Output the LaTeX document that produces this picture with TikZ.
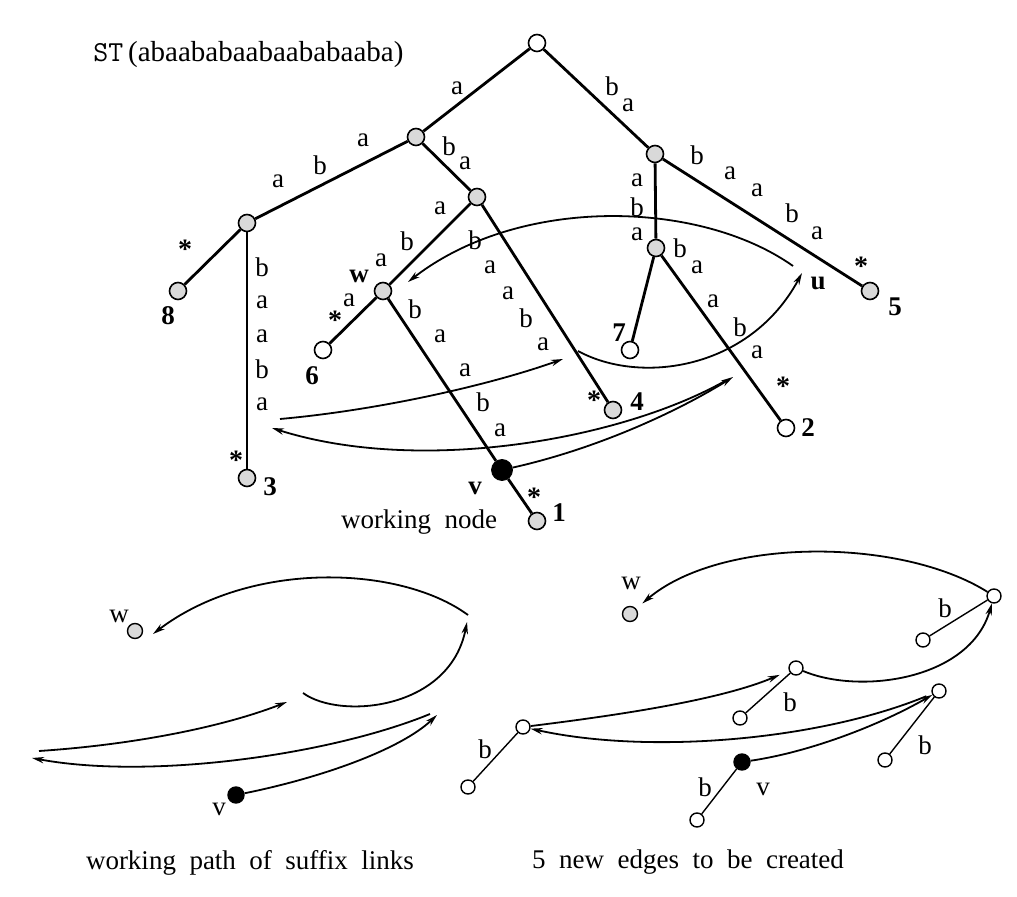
\documentclass[tikz,border=0pt]{standalone}
\usepackage{fontspec}
\setmainfont{Liberation Serif}
\usetikzlibrary{arrows.meta}
\newcommand\mywidespaces{\fontsize{13.5}{16}\selectfont\spaceskip=0.5em plus 0.1em\relax}
\begin{document}
\begin{tikzpicture}[x=0.5pt,y=-0.5pt,
  tn/.style={circle, draw=black, line width=0.8pt, fill=gray!30, minimum size=8.5pt, inner sep=0pt},
  tw/.style={tn, fill=white},
  vn/.style={circle, draw=black, fill=black, minimum size=10.5pt, inner sep=0pt},
  sn/.style={circle, draw=black, line width=0.7pt, fill=white, minimum size=7pt, inner sep=0pt},
  sg/.style={sn, fill=gray!30, minimum size=7.5pt},
  sv/.style={sn, fill=black, minimum size=8pt},
  treeedge/.style={line width=1.4pt},
  thinedge/.style={line width=0.7pt},
  lnk/.style={line width=0.9pt, -{Stealth[length=6pt,width=3.2pt]}},
  lbl/.style={font=\fontsize{13.5}{15}\selectfont, inner sep=0pt},
  numlbl/.style={font=\fontsize{13.5}{15}\selectfont\bfseries, inner sep=0pt},
  starlbl/.style={font=\fontsize{14}{16}\selectfont\bfseries, inner sep=0pt, yshift=-2pt},
  capt/.style={font=\mywidespaces, inner sep=0pt}
]
\useasboundingbox (0,0) rectangle (1017,897);

% ---------------- top tree ----------------
\node[anchor=base west, font=\fontsize{14.5}{17}\selectfont, inner sep=0pt] (title) at (93,62) {{\ttfamily ST}\,(abaababaabaababaaba)};

\node[tw] (root) at (537,43) {};
\node[tn] (A) at (416,137) {};
\node[tn] (B) at (655,154) {};
\node[tn] (C) at (247,223) {};
\node[tn] (D) at (477,197) {};
\node[tn] (L8) at (178,291) {};
\node[tn] (L3) at (247,478) {};
\node[tn] (w) at (383,291) {};
\node[tw] (L6) at (323,350) {};
\node[vn] (v) at (502,470) {};
\node[tn] (L1) at (537,521) {};
\node[tn] (L4) at (613,410) {};
\node[tn] (E) at (656,248) {};
\node[tw] (L7) at (630,350) {};
\node[tw] (L2) at (786,428) {};
\node[tn] (L5) at (870,291) {};

\draw[treeedge] (root) -- (A);
\draw[treeedge] (root) -- (B);
\draw[treeedge] (A) -- (C);
\draw[treeedge] (A) -- (D);
\draw[treeedge] (C) -- (L8);
\draw[treeedge] (C) -- (L3);
\draw[treeedge] (D) -- (w);
\draw[treeedge] (D) -- (L4);
\draw[treeedge] (w) -- (L6);
\draw[treeedge] (w) -- (v);
\draw[treeedge] (v) -- (L1);
\draw[treeedge] (B) -- (E);
\draw[treeedge] (B) -- (L5);
\draw[treeedge] (E) -- (L7);
\draw[treeedge] (E) -- (L2);

% edge labels
\node[lbl] at (457,88) {a};
\node[lbl] at (612,86) {b};
\node[lbl] at (628,105) {a};
\node[lbl] at (278,181) {a};
\node[lbl] at (320,165) {b};
\node[lbl] at (363,140) {a};
\node[lbl] at (449,146) {b};
\node[lbl] at (465,163) {a};
\node[starlbl] at (185,245) {*};
\node[lbl] at (262,267) {b};
\node[lbl] at (262,302) {a};
\node[lbl] at (262,336) {a};
\node[lbl] at (262,369) {b};
\node[lbl] at (262,404) {a};
\node[starlbl] at (236,456) {*};
\node[lbl] at (440,208) {a};
\node[lbl] at (407,241) {b};
\node[lbl] at (381,260) {a};
\node[lbl] at (475,240) {b};
\node[lbl] at (490,267) {a};
\node[lbl] at (508,293) {a};
\node[lbl] at (526,318) {b};
\node[lbl] at (543,344) {a};
\node[starlbl] at (594,396) {*};
\node[lbl] at (349,300) {a};
\node[starlbl] at (335,316) {*};
\node[lbl] at (415,309) {b};
\node[lbl] at (440,336) {a};
\node[lbl] at (465,370) {a};
\node[lbl] at (483,402) {b};
\node[lbl] at (500,430) {a};
\node[starlbl] at (534,493) {*};
\node[lbl] at (637,180) {a};
\node[lbl] at (637,207) {b};
\node[lbl] at (637,234) {a};
\node[lbl] at (697,155) {b};
\node[lbl] at (730,173) {a};
\node[lbl] at (757,190) {a};
\node[lbl] at (792,213) {b};
\node[lbl] at (817,233) {a};
\node[starlbl] at (861,262) {*};
\node[lbl] at (680,248) {b};
\node[lbl] at (697,267) {a};
\node[lbl] at (713,301) {a};
\node[lbl] at (740,327) {b};
\node[lbl] at (757,352) {a};
\node[starlbl] at (783,382) {*};

% leaf numbers and node names
\node[numlbl] at (168,316) {8};
\node[numlbl] at (270,487) {3};
\node[numlbl] at (312,376) {6};
\node[numlbl] at (559,513) {1};
\node[numlbl] at (637,402) {4};
\node[numlbl] at (619,333) {7};
\node[numlbl] at (808,428) {2};
\node[numlbl] at (895,307) {5};
\node[numlbl] at (359,276) {w};
\node[numlbl] at (475,488) {v};
\node[numlbl] at (818,283) {u};
\node[capt] (wn) at (419,522) {working node};

% suffix link path (top)
\coordinate (p1) at (733,377);
\coordinate (p1s) at (725,381);
\coordinate (t1) at (272,428);
\coordinate (t1s) at (280,419);
\coordinate (t2) at (563,359);
\coordinate (t2s) at (578,351);
\coordinate (t3) at (802,273);
\coordinate (t3s) at (793,266);
\coordinate (t4) at (408,282);
\draw[lnk] (v) .. controls (600,448) and (680,410) .. (p1);
\draw[lnk] (p1s) .. controls (620,440) and (420,475) .. (t1);
\draw[lnk] (t1s) .. controls (380,410) and (490,385) .. (t2);
\draw[lnk] (t2s) .. controls (640,385) and (750,370) .. (t3);
\draw[lnk] (t3s) .. controls (700,200) and (520,195) .. (t4);

% ---------------- bottom left ----------------
\node[sg] (w3) at (135,631) {};
\node[sv] (v3) at (236,795) {};
\node[lbl] at (119,616) {w};
\node[lbl] at (219,809) {v};
\coordinate (b1) at (437,715);
\coordinate (b1s) at (430,714);
\coordinate (b2) at (32,758);
\coordinate (b2s) at (39,751);
\coordinate (b3) at (287,702);
\coordinate (b3s) at (303,693);
\coordinate (b4) at (467,622);
\coordinate (b4s) at (468,615);
\coordinate (b5) at (153,634);
\draw[lnk] (v3) .. controls (320,778) and (400,750) .. (b1);
\draw[lnk] (b1s) .. controls (330,755) and (150,780) .. (b2);
\draw[lnk] (b2s) .. controls (130,745) and (220,728) .. (b3);
\draw[lnk] (b3s) .. controls (340,720) and (450,710) .. (b4);
\draw[lnk] (b4s) .. controls (400,565) and (250,560) .. (b5);
\node[capt] (c1) at (250,863) {working path of suffix links};

% ---------------- bottom right ----------------
\node[sg] (w2) at (630,614) {};
\node[lbl] at (631,583) {w};
\node[sn] (T1) at (994,596) {};
\node[sn] (TL) at (923,640) {};
\node[sn] (M1) at (796,668) {};
\node[sn] (ML) at (740,718) {};
\node[sn] (N1) at (523,727) {};
\node[sn] (NL) at (468,787) {};
\node[sn] (R1) at (939,691) {};
\node[sn] (RL) at (885,760) {};
\node[sv] (v2) at (742,762) {};
\node[sn] (VL) at (697,820) {};
\node[lbl] at (763,789) {v};

\draw[thinedge] (TL) -- (T1);
\draw[thinedge] (ML) -- (M1);
\draw[thinedge] (NL) -- (N1);
\draw[thinedge] (RL) -- (R1);
\draw[thinedge] (VL) -- (v2);
\node[lbl] at (945,608) {b};
\node[lbl] at (790,702) {b};
\node[lbl] at (485,749) {b};
\node[lbl] at (925,745) {b};
\node[lbl] at (705,787) {b};

\draw[lnk, shorten >=4pt] (T1) .. controls (900,537) and (720,537) .. (w2);
\draw[lnk] (M1) .. controls (860,695) and (970,680) .. (T1);
\draw[lnk, shorten >=5pt] (N1) .. controls (620,715) and (720,700) .. (M1);
\draw[lnk, shorten <=3pt] (R1) .. controls (820,740) and (650,755) .. (N1);
\draw[lnk] (v2) .. controls (810,752) and (880,725) .. (R1);
\node[capt] (c2) at (688,862) {5 new edges to be created};
\end{tikzpicture}
\end{document}
